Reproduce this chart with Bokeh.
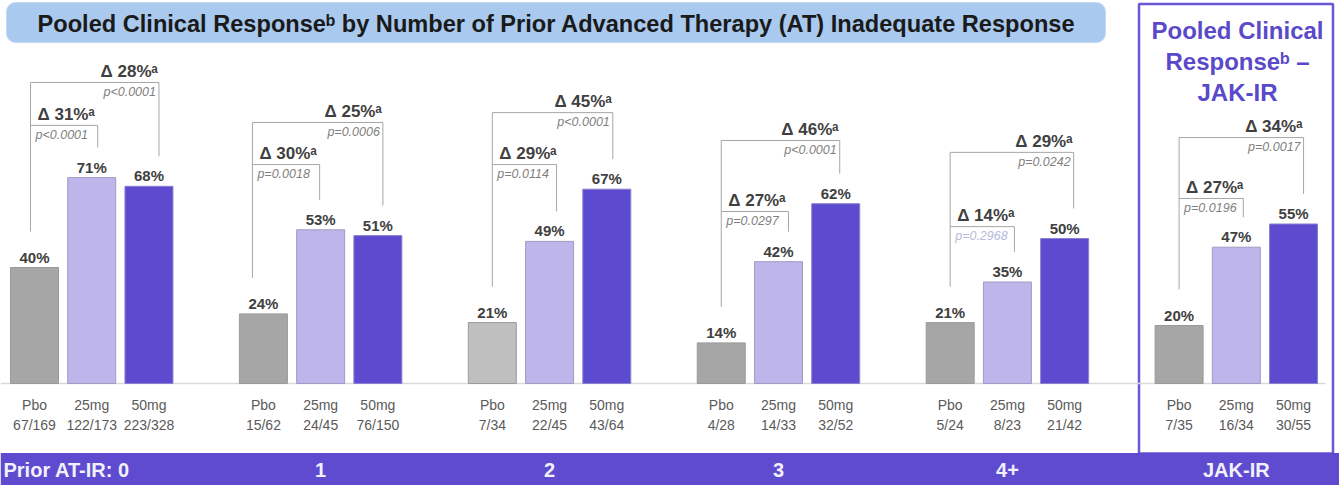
from bokeh.plotting import figure
from bokeh.models import Range1d
from bokeh.core.properties import value
from bokeh.embed import file_html
from bokeh.resources import INLINE

# ---------------- data ----------------
groups = ["0", "1", "2", "3", "4+", "JAK-IR"]
band_labels = ["Prior AT-IR: 0", "1", "2", "3", "4+", "JAK-IR"]
arms = ["Pbo", "25mg", "50mg"]
pbo = [40, 24, 21, 14, 21, 20]
mg25 = [71, 53, 49, 42, 35, 47]
mg50 = [68, 51, 67, 62, 50, 55]
pbo_n = ["67/169", "15/62", "7/34", "4/28", "5/24", "7/35"]
mg25_n = ["122/173", "24/45", "22/45", "14/33", "8/23", "16/34"]
mg50_n = ["223/328", "76/150", "43/64", "32/52", "21/42", "30/55"]
delta25 = [31, 30, 29, 27, 14, 27]
p25 = ["p<0.0001", "p=0.0018", "p=0.0114", "p=0.0297", "p=0.2968", "p=0.0196"]
delta50 = [28, 25, 45, 46, 29, 34]
p50 = ["p<0.0001", "p=0.0006", "p<0.0001", "p<0.0001", "p=0.0242", "p=0.0017"]
title = "Pooled Clinical Responseᵇ by Number of Prior Advanced Therapy (AT) Inadequate Response"
panel_title = ["Pooled Clinical", "Responseᵇ –", "JAK-IR"]

# ---------------- layout / style ----------------
W, H = 1339, 485
SLOT = 57.23          # px per bar slot
PXY = 2.9             # px per percentage point
X0PX, Y0PX = 34, 383  # picture px of first bar centre / baseline
GROUP_STEP = 4        # 3 bars + 1 gap slot
BAR_W = 48 / SLOT
# bracket levels (in % units) and x nudges (px) of left / inner-right / outer-right legs
inner_lvl = [89.0, 75.5, 75.5, 59.3, 54.1, 63.8]
outer_lvl = [103.8, 90.0, 93.4, 83.8, 79.7, 84.8]
brk_dx = [(-4, 6, 10), (-11, -1, 5), (0, 7, 6), (0, 10, 4), (0, 7, 9), (0, 7, 10)]

FONT = value("Liberation Sans")
C_PBO = ["#a6a6a6", "#a6a6a6", "#bfbfbf", "#a6a6a6", "#a6a6a6", "#a6a6a6"]
C_25 = "#beb5ea"
C_50 = "#5d4bcf"
C_BAND = "#5e4bcf"
C_PANEL = "#5a49c9"


def X(px):
    return (px - X0PX) / SLOT


def Y(py):
    return (Y0PX - py) / PXY


def dx(px):
    return px / SLOT


def dy(px):
    return px / PXY


p = figure(width=W, height=H, x_range=Range1d(X(0), X(W)),
           y_range=Range1d(Y(H), Y(0)), output_backend="svg",
           toolbar_location=None, x_axis_type=None, y_axis_type=None,
           min_border=0, outline_line_color=None, background_fill_color="white")


def txt(xs, ys, texts, size, color, style="normal", align="center", baseline="middle"):
    p.text(x=xs, y=ys, text=texts, text_font=FONT, text_font_size=size,
           text_font_style=style, text_color=color, text_align=align,
           text_baseline=baseline)


# title box
p.quad(left=[X(6)], right=[X(1105)], top=[Y(2)], bottom=[Y(42)],
       fill_color="#a9c9ee", line_color="#c3d9f3", line_width=1, border_radius=9)
txt([X(556)], [Y(23)], [title], "23.6px", "#1a1a1a", style="bold")

# JAK-IR panel
p.quad(left=[X(1138.5)], right=[X(1332.5)], top=[Y(3.5)], bottom=[Y(453)],
       fill_color=None, line_color="#6857d6", line_width=2.5)
txt([X(1237)] * 3, [Y(30), Y(61), Y(92)], panel_title, "24px", C_PANEL, style="bold")

# baseline
p.segment(x0=[X(0)], y0=[0], x1=[X(1325)], y1=[0], line_color="#d9d9d9", line_width=1.5)

# bars
bx, btop, bfill, bline = [], [], [], []
vx, vy, vt = [], [], []
ax, at, nt = [], [], []
for g in range(len(groups)):
    for s, (vals, ns) in enumerate([(pbo, pbo_n), (mg25, mg25_n), (mg50, mg50_n)]):
        x = g * GROUP_STEP + s
        bx.append(x)
        btop.append(vals[g])
        bfill.append([C_PBO[g], C_25, C_50][s])
        bline.append(["#9a9a9a", "#a09bc0", "#8a80d0"][s])
        vx.append(x)
        vy.append(vals[g] + dy(10.5))
        vt.append(f"{vals[g]}%")
        ax.append(x)
        at.append(arms[s])
        nt.append(ns[g])

p.vbar(x=bx, top=btop, bottom=0, width=BAR_W, fill_color=bfill, line_color=bline, line_width=1)
txt(vx, vy, vt, "15px", "#404040", style="bold", baseline="alphabetic")
txt(ax, [Y(404)] * len(ax), at, "14px", "#5a5a5a")
txt(ax, [Y(424)] * len(ax), nt, "14px", "#5a5a5a")

# brackets
sx0, sy0, sx1, sy1 = [], [], [], []
dtx, dty, dtt, dta = [], [], [], []
ptx, pty, ptt, pta, ptc = [], [], [], [], []


def pcolor(ps):
    if "<" in ps:
        return "#7f7f7f"
    return "#7f7f7f" if float(ps.split("=")[1]) < 0.05 else "#b3bcd9"


for g in range(len(groups)):
    xp = g * GROUP_STEP
    lx = xp + dx(brk_dx[g][0])
    r1 = xp + 1 + dx(brk_dx[g][1])
    r2 = xp + 2 + dx(brk_dx[g][2])
    li, lo = inner_lvl[g], outer_lvl[g]
    segs = [
        (lx, lo, lx, pbo[g] + dy(36)),
        (lx, lo, r2, lo),
        (r2, lo, r2, mg50[g] + dy(30)),
        (lx, li, r1, li),
        (r1, li, r1, mg25[g] + dy(30)),
    ]
    for a, b, c, d in segs:
        sx0.append(a); sy0.append(b); sx1.append(c); sy1.append(d)
    dtx += [lx + dx(7), r2 - dx(1)]
    dty += [li + dy(11), lo + dy(11)]
    dtt += [f"Δ {delta25[g]}%ᵃ", f"Δ {delta50[g]}%ᵃ"]
    dta += ["left", "right"]
    ptx += [lx + dx(5), r2 - dx(3)]
    pty += [li - dy(9.5), lo - dy(9.5)]
    ptt += [p25[g], p50[g]]
    pta += ["left", "right"]
    ptc += [pcolor(p25[g]), pcolor(p50[g])]

p.segment(x0=sx0, y0=sy0, x1=sx1, y1=sy1, line_color="#a6a6a6", line_width=1)
p.text(x=dtx, y=dty, text=dtt, text_font=FONT, text_font_size="17px",
       text_font_style="bold", text_color="#404040", text_align=dta, text_baseline="middle")
p.text(x=ptx, y=pty, text=ptt, text_font=FONT, text_font_size="12.5px",
       text_font_style="italic", text_color=ptc, text_align=pta, text_baseline="middle")

# bottom band
p.quad(left=[X(0)], right=[X(W)], top=[Y(452.5)], bottom=[Y(H + 2)],
       fill_color=C_BAND, line_color=None)
blx = [X(3)] + [g * GROUP_STEP + 1 for g in range(1, len(groups))]
bla = ["left"] + ["center"] * (len(groups) - 1)
p.text(x=blx, y=[Y(469)] * len(groups), text=band_labels, text_font=FONT,
       text_font_size="20px", text_font_style="bold", text_color="#f2f0fb",
       text_align=bla, text_baseline="middle")

open("out.html", "w").write(file_html(p, INLINE))
